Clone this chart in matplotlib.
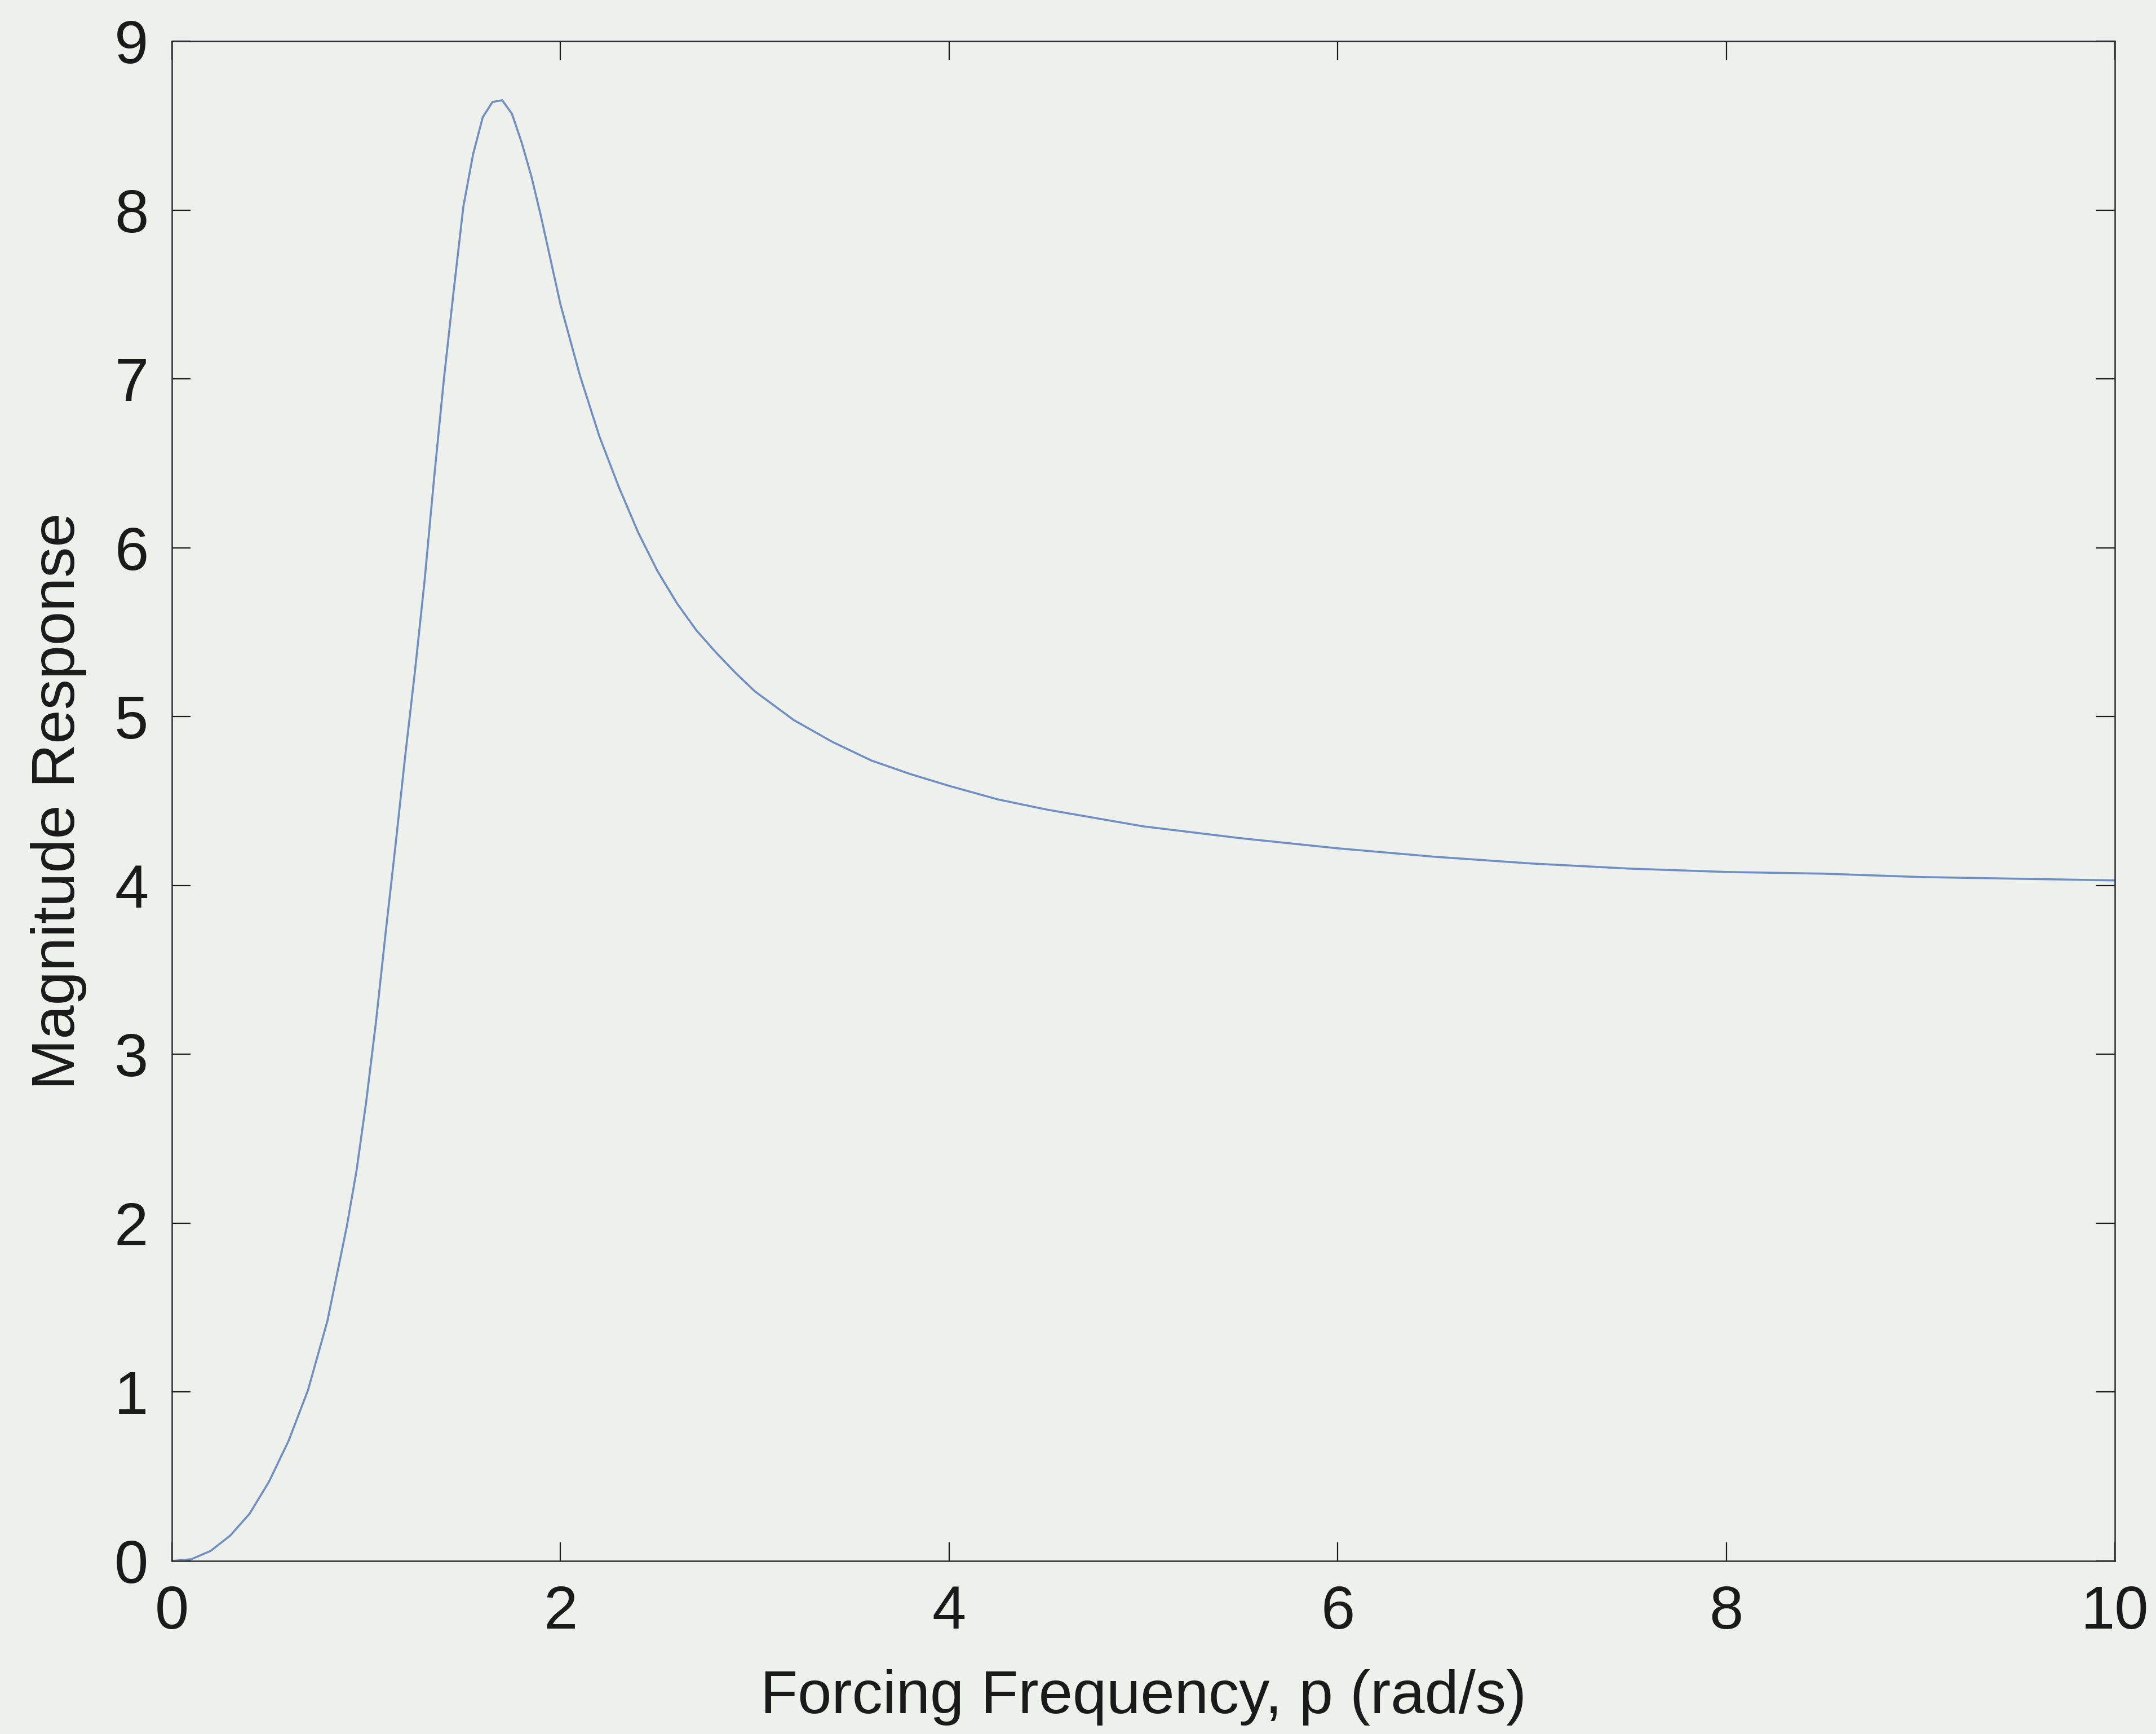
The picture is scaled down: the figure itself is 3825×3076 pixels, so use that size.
import matplotlib
matplotlib.use("Agg")
import matplotlib.pyplot as plt

# Values
freq = [0.0, 0.1, 0.2, 0.3, 0.4, 0.5, 0.6, 0.7, 0.8, 0.9, 0.95, 1.0, 1.05, 1.1, 1.15,
        1.2, 1.25, 1.3, 1.35, 1.4, 1.45, 1.5, 1.55, 1.6, 1.65, 1.7, 1.75, 1.8, 1.85,
        1.9, 1.95, 2.0, 2.1, 2.2, 2.3, 2.4, 2.5, 2.6, 2.7, 2.8, 2.9, 3.0, 3.2, 3.4,
        3.6, 3.8, 4.0, 4.25, 4.5, 5.0, 5.5, 6.0, 6.5, 7.0, 7.5, 8.0, 8.5, 9.0, 9.5, 10.0]
magnitude = [0.0, 0.01, 0.06, 0.15, 0.28, 0.47, 0.71, 1.01, 1.42, 1.98, 2.31, 2.72, 3.19, 3.72, 4.23,
             4.76, 5.26, 5.80, 6.42, 7.0, 7.52, 8.02, 8.33, 8.55, 8.64, 8.65, 8.57, 8.40, 8.20,
             7.96, 7.70, 7.44, 7.02, 6.66, 6.36, 6.09, 5.86, 5.67, 5.51, 5.38, 5.26, 5.15, 4.98, 4.85,
             4.74, 4.66, 4.59, 4.51, 4.45, 4.35, 4.28, 4.22, 4.17, 4.13, 4.10, 4.08, 4.07, 4.05, 4.04, 4.03]

x_ticks = [0, 2, 4, 6, 8, 10]
y_ticks = [0, 1, 2, 3, 4, 5, 6, 7, 8, 9]
x_label = "Forcing Frequency, p (rad/s)"
y_label = "Magnitude Response"

paper = "#eef0ec"
plt.rcParams['font.family'] = ['Liberation Sans', 'DejaVu Sans']

fig = plt.figure(figsize=(38.25, 30.76), dpi=100, facecolor=paper)
ax = fig.add_axes([305/3825, 1 - 2769/3076, (3752-305)/3825, (2769-73)/3076])
ax.set_facecolor(paper)

ax.plot(freq, magnitude, color="#6f8fc4", linewidth=2.6, solid_joinstyle='round')

ax.set_xlim(0, 10)
ax.set_ylim(0, 9)
ax.set_xticks(x_ticks)
ax.set_yticks(y_ticks)
ax.tick_params(direction='in', length=24, width=1.6, labelsize=78,
               top=True, right=True, pad=30, colors='#1a1a1a')
for s in ax.spines.values():
    s.set_linewidth(1.8)
    s.set_color('#2a2a2a')

ax.set_xlabel(x_label, fontsize=78, labelpad=36, color='#1a1a1a')
ax.set_ylabel(y_label, fontsize=78, labelpad=35, color='#1a1a1a')

fig.savefig("out.png", dpi=100, facecolor=paper)
